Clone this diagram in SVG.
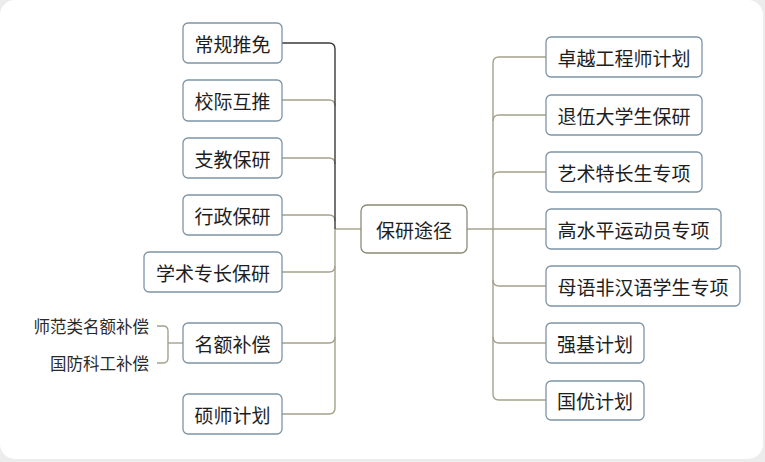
<svg xmlns="http://www.w3.org/2000/svg" width="765" height="462" viewBox="0 0 765 462">
<style>
.n{fill:#fff;stroke:#7d94a6;stroke-width:1.3}
.c{fill:#fff;stroke:#8c8a74;stroke-width:1.3}
.t{font-family:"Noto Sans CJK SC","Noto Sans",sans-serif;font-size:19px;fill:#1e1e1e;text-anchor:middle;dominant-baseline:central}
.s{font-family:"Noto Sans CJK SC","Noto Sans",sans-serif;font-size:16.5px;fill:#2a2a2a;text-anchor:end;dominant-baseline:central}
.l{fill:none;stroke:#a4a28c;stroke-width:1.4}
.d{fill:none;stroke:#3a3a3a;stroke-width:1.4}
</style>
<rect x="0" y="0" width="765" height="462" fill="#ececec"/>
<rect x="0" y="0" width="763" height="459" rx="15" fill="#fff"/>
<g id="connectors">
<path class="l" d="M335,229 V408 Q335,414 329,414 H282"/>
<path class="l" d="M282,100 H329 Q335,100 335,106"/>
<path class="l" d="M282,158 H329 Q335,158 335,164"/>
<path class="l" d="M282,215 H329 Q335,215 335,221"/>
<path class="l" d="M335,266 Q335,272 329,272 H282"/>
<path class="l" d="M335,337 Q335,343 329,343 H282"/>
<path class="l" d="M335,229 H361"/>
<path class="d" d="M282,43 H329 Q335,43 335,49 V229"/>
<path class="l" d="M467,229 H546"/>
<path class="l" d="M546,57 H499 Q493,57 493,63 V394 Q493,400 499,400 H546"/>
<path class="l" d="M546,115 H499 Q493,115 493,121"/>
<path class="l" d="M546,172 H499 Q493,172 493,178"/>
<path class="l" d="M493,280 Q493,286 499,286 H546"/>
<path class="l" d="M493,337 Q493,343 499,343 H546"/>
<path class="l" d="M157,326 H163 Q168,326 168,331 V358 Q168,363 163,363 H157"/>
<path class="l" d="M168,343 H183"/>
</g>
<g id="center"><rect class="c" x="361" y="205" width="106" height="48" rx="6"/><text class="t" x="414" y="229">保研途径</text></g>
<g id="l1"><rect class="n" x="183" y="23" width="99" height="40" rx="5"/><text class="t" x="232.5" y="43">常规推免</text></g>
<g id="l2"><rect class="n" x="183" y="80" width="99" height="41" rx="5"/><text class="t" x="232.5" y="100.5">校际互推</text></g>
<g id="l3"><rect class="n" x="183" y="138" width="99" height="40" rx="5"/><text class="t" x="232.5" y="158">支教保研</text></g>
<g id="l4"><rect class="n" x="183" y="195" width="99" height="40" rx="5"/><text class="t" x="232.5" y="215">行政保研</text></g>
<g id="l5"><rect class="n" x="144" y="252" width="138" height="40" rx="5"/><text class="t" x="213" y="272">学术专长保研</text></g>
<g id="l6"><rect class="n" x="183" y="323" width="99" height="40" rx="5"/><text class="t" x="232.5" y="343">名额补偿</text></g>
<g id="l7"><rect class="n" x="183" y="394" width="99" height="40" rx="5"/><text class="t" x="232.5" y="414">硕师计划</text></g>
<g id="s1"><text class="s" x="149" y="326">师范类名额补偿</text></g>
<g id="s2"><text class="s" x="149" y="363">国防科工补偿</text></g>
<g id="r1"><rect class="n" x="546" y="37" width="156" height="40" rx="5"/><text class="t" x="624" y="57">卓越工程师计划</text></g>
<g id="r2"><rect class="n" x="546" y="95" width="156" height="40" rx="5"/><text class="t" x="624" y="115">退伍大学生保研</text></g>
<g id="r3"><rect class="n" x="546" y="152" width="156" height="40" rx="5"/><text class="t" x="624" y="172">艺术特长生专项</text></g>
<g id="r4"><rect class="n" x="546" y="209" width="175" height="40" rx="5"/><text class="t" x="633.5" y="229">高水平运动员专项</text></g>
<g id="r5"><rect class="n" x="546" y="266" width="194" height="40" rx="5"/><text class="t" x="643" y="286">母语非汉语学生专项</text></g>
<g id="r6"><rect class="n" x="546" y="323" width="98" height="40" rx="5"/><text class="t" x="595" y="343">强基计划</text></g>
<g id="r7"><rect class="n" x="546" y="381" width="98" height="39" rx="5"/><text class="t" x="595" y="400.5">国优计划</text></g>
</svg>
